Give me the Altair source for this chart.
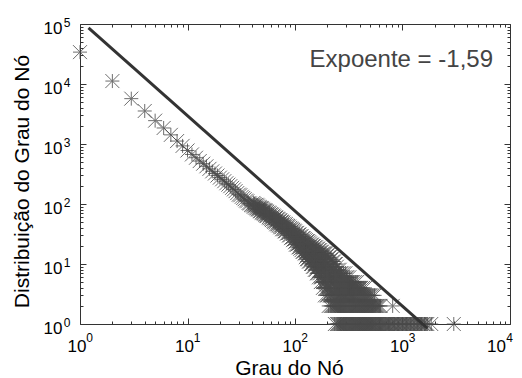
import altair as alt
import pandas as pd

# ---- data ----
head_deg = [1, 2, 3, 4, 5, 6, 7, 8, 9, 10, 11, 12, 13, 14, 15, 16, 17, 18, 19, 20,
            21, 22, 23, 24, 25, 26, 27, 28, 29, 30, 31, 32, 33, 34, 35, 36, 37, 38, 39, 40]
head_cnt = [34000, 11200, 5700, 3550, 2450, 1850, 1420, 1120, 930, 780,
            670, 590, 520, 470, 425, 385, 350, 322, 298, 275,
            258, 240, 222, 210, 198, 186, 175, 164, 152, 143,
            140, 132, 126, 120, 114, 111, 104, 102, 97, 95]

cloud_deg = [41, 43, 45, 47, 49, 51, 53, 55, 58, 61, 64, 67, 70, 73, 76, 80, 84, 88, 92, 96,
             100, 105, 110, 115, 120, 126, 132, 138, 144, 150, 157, 164, 171, 178, 186, 194,
             202, 211, 220, 230, 240]
cloud_cnt = [[104, 92], [96, 86], [94, 82], [88, 76, 84], [85, 72], [80, 70, 76], [78, 66],
             [74, 63, 69], [70, 58, 65], [66, 54, 60], [62, 50, 57], [59, 46, 53], [56, 44, 50],
             [53, 41, 48], [50, 38, 45], [47, 35, 42, 38], [44, 32, 39], [42, 30, 36, 33],
             [39, 27, 34], [37, 25, 32, 28], [35, 23, 30, 26], [33, 21, 28, 24], [31, 19, 26, 22],
             [29, 17, 24, 20], [27, 16, 22, 19], [25, 15, 21, 17, 13], [24, 14, 19, 16, 12],
             [22, 13, 18, 15, 11], [21, 12, 17, 14, 10], [20, 11, 16, 13, 9], [19, 10, 15, 12, 8],
             [18, 9, 14, 11, 7], [17, 8, 13, 10, 7], [16, 8, 12, 10, 6], [15, 7, 12, 9, 5],
             [15, 6, 11, 8, 5, 4], [14, 6, 10, 8, 4, 3], [13, 5, 9, 7, 4, 3], [12, 5, 9, 6, 3, 2],
             [11, 5, 8, 6, 3, 2], [10, 4, 7, 5, 3, 2]]

cloud2_deg = [42, 44, 46, 48, 50, 52, 54, 57, 60, 63, 66, 69, 72, 75, 78, 82, 86, 90, 94, 98,
              102, 108, 112, 118, 123, 129, 135, 141, 147, 153, 160, 167, 174, 182, 190, 198,
              206, 215, 225, 235, 245]
cloud2_cnt = [[100, 90], [97, 84], [90, 80], [86, 76], [83, 71], [79, 68], [76, 64], [72, 60],
              [68, 56], [64, 52], [60, 49], [57, 46], [54, 43], [51, 41], [49, 38], [46, 35],
              [43, 33], [40, 30], [38, 28], [36, 26],
              [33, 24, 29, 21], [31, 22, 27, 19], [29, 21, 25, 18], [27, 19, 23, 16],
              [26, 17, 22, 15], [24, 16, 20, 14, 12], [23, 15, 19, 13, 11], [21, 14, 17, 12, 10],
              [20, 13, 16, 11, 9], [19, 12, 15, 10, 8], [18, 11, 14, 9, 7], [17, 10, 13, 9, 6],
              [16, 9, 12, 8, 6, 5], [15, 9, 11, 7, 5, 4], [15, 8, 11, 7, 5, 3], [14, 7, 10, 6, 4, 3],
              [13, 7, 9, 6, 4, 2], [12, 6, 9, 5, 3, 2], [11, 6, 8, 5, 3, 2],
              [10, 5, 7, 4, 3, 2, 1], [9, 5, 7, 4, 3, 2, 1]]

band_deg = [250, 260, 270, 282, 294, 306, 320, 334, 348, 363, 378, 395, 412, 430, 448,
            468, 488, 510, 530, 550, 555, 580, 610]
band_cnt = [[8, 6, 5, 4, 3, 2, 1], [8, 6, 5, 4, 3, 2, 1], [7, 6, 5, 4, 3, 2, 1],
            [7, 5, 4, 3, 2, 1], [7, 5, 4, 3, 2, 1], [6, 5, 4, 3, 2, 1], [6, 5, 4, 3, 2, 1],
            [5, 4, 3, 2, 1], [5, 4, 3, 2, 1], [5, 4, 3, 2, 1], [5, 4, 3, 2, 1],
            [4, 3, 2, 1], [4, 3, 2, 1], [4, 3, 2, 1], [4, 3, 2, 1],
            [3, 2, 1], [3, 2, 1], [3, 2, 1], [3, 2, 1], [3], [2, 1], [2, 1], [2, 1]]

band2_deg = [255, 265, 276, 288, 300, 313, 327, 341, 355, 370, 386, 403, 421, 439, 458,
             478, 499, 520, 542, 566, 595, 625]
band2_cnt = [[7, 5, 3, 2, 1], [7, 5, 3, 2, 1], [6, 4, 3, 2, 1], [6, 4, 3, 2, 1],
             [6, 4, 3, 2, 1], [5, 4, 3, 2, 1], [5, 4, 3, 2, 1], [5, 3, 2, 1], [4, 3, 2, 1],
             [4, 3, 2, 1], [4, 3, 2, 1], [4, 3, 2, 1], [3, 2, 1], [3, 2, 1], [3, 2, 1],
             [3, 2, 1], [3, 2, 1], [2, 1], [2, 1], [2, 1], [2, 1], [2, 1]]

tail_deg = [640, 655, 670, 685, 700, 720, 740, 760, 780, 800, 810, 820, 845, 870, 895, 920,
            945, 970, 1000, 1030, 1060, 1090, 1120, 1150, 1185, 1220, 1260, 1300, 1340, 1380,
            1420, 1460, 1500, 1550, 1600, 1650, 1700, 1850, 3000]
tail_cnt = [1, 1, 1, 1, 1, 1, 1, 1, 1, 1, 2, 1, 1, 1, 1, 1,
            1, 1, 1, 1, 1, 1, 1, 1, 1, 1, 1, 1, 1, 1,
            1, 1, 1, 1, 1, 1, 1, 1, 1]

fit_x = [1.2, 1700]
fit_y = [86000, 0.85]

x_major = [1, 10, 100, 1000, 10000]
x_minor = [2, 3, 4, 5, 6, 7, 8, 9, 20, 30, 40, 50, 60, 70, 80, 90,
           200, 300, 400, 500, 600, 700, 800, 900, 2000, 3000, 4000, 5000, 6000, 7000, 8000, 9000]
y_major = [1, 10, 100, 1000, 10000, 100000]
y_minor = [2, 3, 4, 5, 6, 7, 8, 9, 20, 30, 40, 50, 60, 70, 80, 90,
           200, 300, 400, 500, 600, 700, 800, 900, 2000, 3000, 4000, 5000, 6000, 7000, 8000, 9000,
           20000, 30000, 40000, 50000, 60000, 70000, 80000, 90000]

annotation = "Expoente = -1,59"
x_title = "Grau do Nó"
y_title = "Distribuição do Grau do Nó"

# ---- tables ----
rows = list(zip(head_deg, head_cnt))
for dl, cl in ((cloud_deg, cloud_cnt), (cloud2_deg, cloud2_cnt),
               (band_deg, band_cnt), (band2_deg, band2_cnt)):
    for d, cs in zip(dl, cl):
        rows += [(d, c) for c in cs]
rows += list(zip(tail_deg, tail_cnt))
pts_df = pd.DataFrame(rows, columns=["deg", "cnt"])
fit_df = pd.DataFrame({"fx": fit_x, "fy": fit_y})

FONT = "Liberation Sans"
DARK = "#333333"
xs = alt.Scale(type="log", domain=[1, 10000], nice=False)
ys = alt.Scale(type="log", domain=[1, 100000], nice=False)

exp_expr = "format(log(datum.value)/log(10), '.0f')"
LAST_X = "datum.value == 10000"


def label_axis(orient, values, text_expr, size, padding, offset, align, title=None, **kw):
    return alt.Axis(orient=orient, values=values, labelExpr=text_expr, labelFontSize=size,
                    labelFont=FONT, labelColor="black", labelPadding=padding, labelOffset=offset,
                    labelAlign=align, labelBaseline="alphabetic", ticks=False, tickSize=0,
                    domain=False, grid=False, labelOverlap=False, labelFlush=False,
                    title=title, **kw)


def tick_axis(orient, values, size):
    return alt.Axis(orient=orient, values=values, labels=False, ticks=True, tickSize=size,
                    tickColor=DARK, tickWidth=1, offset=-size, domain=False, grid=False, title=None)


ax_x10 = label_axis("bottom", x_major, "'10'", 17, 27,
                    {"condition": {"test": LAST_X, "value": -14}, "value": -3.5}, "center",
                    title=x_title,
                    titleFont=FONT, titleFontSize=21, titleFontWeight="normal", titleColor="black",
                    titleX=209, titleY=50, titleBaseline="alphabetic", titleAlign="center")
ax_y10 = label_axis("left", y_major, "'10'", 17, 18, 9, "right", title=y_title,
                    titleFont=FONT, titleFontSize=21, titleFontWeight="normal", titleColor="black",
                    titleX=-52, titleY=157, titleBaseline="alphabetic", titleAlign="center",
                    titleAngle=270)
ax_xexp = label_axis("bottom", x_major, exp_expr, 12, 17,
                     {"condition": {"test": LAST_X, "value": -1}, "value": 9}, "center")
ax_yexp = label_axis("left", y_major, exp_expr, 12, 10, 2, "right")

points = alt.Chart(pts_df).mark_point(
    shape="M-1,0L1,0M0,-1L0,1M-1,-1L1,1M-1,1L1,-1", size=196, filled=False,
    color="#4a4a4a", opacity=0.8, strokeWidth=1
).encode(
    x=alt.X("deg:Q", scale=xs, axis=ax_x10),
    y=alt.Y("cnt:Q", scale=ys, axis=ax_y10),
)

fit = alt.Chart(fit_df).mark_line(color=DARK, strokeWidth=3, clip=False).encode(
    x=alt.X("fx:Q", scale=xs, axis=ax_xexp),
    y=alt.Y("fy:Q", scale=ys, axis=ax_yexp),
)


def ghost(xa, ya):
    return alt.Chart(fit_df).mark_point(opacity=0).encode(
        x=alt.X("fx:Q", scale=xs, axis=xa),
        y=alt.Y("fy:Q", scale=ys, axis=ya),
    )


g1 = ghost(tick_axis("bottom", x_major, 6), tick_axis("left", y_major, 6))
g2 = ghost(tick_axis("bottom", x_minor, 3), tick_axis("left", y_minor, 3))
g3 = ghost(tick_axis("top", x_major, 6), tick_axis("right", y_major, 6))
g4 = ghost(tick_axis("top", x_minor, 3), tick_axis("right", y_minor, 3))

note = alt.Chart(pd.DataFrame({"t": [annotation]})).mark_text(
    font=FONT, fontSize=24, color="#444444", align="right", baseline="alphabetic"
).encode(text="t:N", x=alt.value(413), y=alt.value(43))

chart = alt.layer(g1, g2, g3, g4, points, fit, note).resolve_axis(
    x="independent", y="independent"
).properties(
    width=430, height=300,
    padding={"left": 72, "top": 16, "right": 4, "bottom": 54},
    autosize=alt.AutoSizeParams(type="none"),
).configure_view(stroke=DARK, strokeWidth=1)

chart.save("out.html", embed_options={"renderer": "svg", "actions": False})
